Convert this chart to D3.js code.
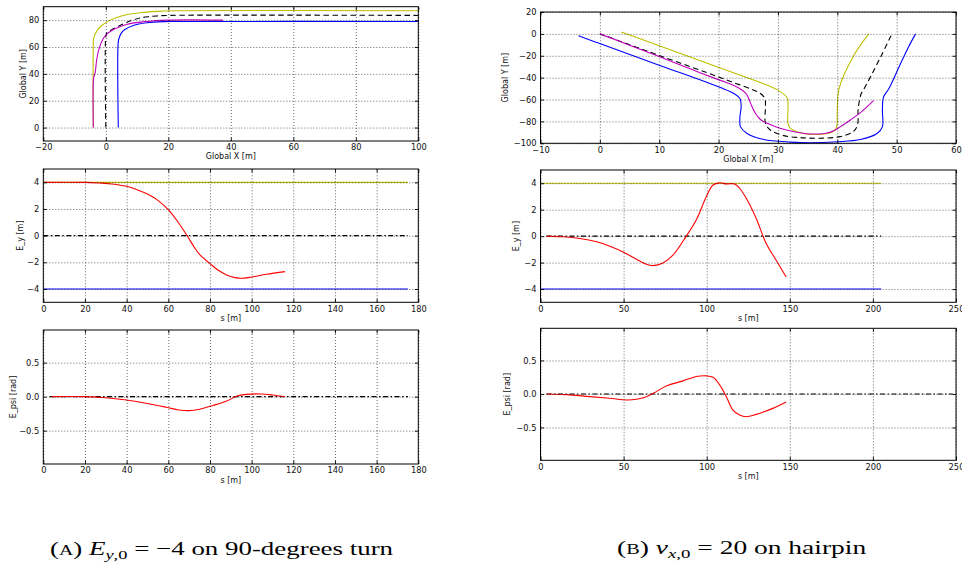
<!DOCTYPE html>
<html>
<head>
<meta charset="utf-8">
<script src="https://cdn.jsdelivr.net/npm/d3@7"></script>
<style>
  body { margin: 0; background: #fff; }
  svg { display: block; }
</style>
</head>
<body>
<div id="chart"></div>
<script>
// ---------- values ----------

// (A) 90-degree turn, global route [x, y] in m
const turnLeftEdge = [[-4, 0], [-4, 63], [-3.9, 66.5], [-2.9, 71.8], [-1.3, 76], [1.3, 80], [5.6, 83.5],
    [10.9, 85.5], [16.3, 86.5], [22, 87], [100, 87]];
const turnCenter = [[0, 0], [0, 68], [0.3, 70.5], [1.2, 72], [2.4, 73.5], [4.5, 76], [6.7, 78.3], [9, 80.3],
    [11, 81.6], [13.5, 82.5], [16.3, 83.1], [19.5, 83.5], [100, 83.5]];
const turnRightEdge = [[4, 0], [4, 64], [4.3, 67], [5, 70.5], [6.1, 73], [8.8, 76], [13.1, 78], [18.5, 78.9],
    [22, 79], [100, 79]];
const turnPath = [[-4, 0], [-4, 34], [-3.8, 38], [-3.4, 41], [-2.9, 50.7], [-1.9, 60.6], [-0.3, 68], [2.4, 73],
    [6.7, 76.8], [13.1, 79], [19.5, 80], [37.5, 80]];

// (A) lateral error E_y [m] and heading error E_psi [rad] along s [m]
const turnEyUpper = [[0, 4], [175, 4]];
const turnEyLower = [[0, -4], [175, -4]];
const turnEyRef = [[0, 0], [175, 0]];
const turnEy = [[0, 4], [20, 4], [27, 3.95], [33, 3.88], [40, 3.7], [45, 3.45], [50, 3.12], [55, 2.65], [60, 1.95],
    [65, 0.95], [69, 0], [72, -0.75], [75.2, -1.45], [80, -2.1], [84, -2.6], [88, -2.95], [92, -3.15], [95, -3.2],
    [100, -3.1], [107, -2.9], [116, -2.7]];
const turnEpsiRef = [[3, 0], [175, 0]];
const turnEpsi = [[4, 0], [20, 0], [30, -0.015], [40, -0.05], [50, -0.1], [59, -0.155], [65, -0.195], [70, -0.205],
    [75, -0.185], [81.5, -0.13], [88, -0.065], [93, 0.01], [97.5, 0.034], [104, 0.04], [110, 0.025], [116, 0]];

// (B) hairpin, global route [x, y] in m
const pinLeftEdge = [[3.6, 1.8], [10.1, -11], [20.3, -31.1], [24.5, -39.5], [27.6, -45.6], [30.4, -52.8], [31.6, -58.9],
    [31.7, -66.6], [31.7, -81.8], [32.1, -86.4], [33.8, -90.4], [35.5, -91.8], [37.7, -91.5], [39.4, -89],
    [39.9, -84.8], [40, -69.8], [40.3, -50], [42.8, -19.6], [45.3, 0]];
const pinCenter = [[0, 0], [10, -19.7], [20, -39.4], [23, -45.5], [25.5, -50.5], [27, -54.3], [27.8, -59], [27.9, -66],
    [27.9, -81.7], [28.7, -87.8], [31, -93], [33.8, -94.8], [36.6, -95.4], [40.5, -93.9], [42.5, -90], [43.2, -86],
    [43.5, -80], [43.5, -69.6], [44, -55], [44.4, -51.3], [45.9, -36], [47.5, -19], [49.2, 0]];
const pinRightEdge = [[-3.6, -1.8], [0.1, -9.1], [10.1, -28.8], [20.3, -49], [22.6, -54.5], [23.6, -59], [23.8, -66.6],
    [23.6, -75.8], [23.7, -85], [24.8, -91], [27.6, -96.5], [32.1, -98.9], [35.5, -99.5], [40, -98.6], [43.9, -96.5],
    [46.7, -91], [47.6, -85], [47.6, -69.8], [47.8, -57.6], [48.7, -50], [50.4, -30.2], [52, -11.9], [53.2, 0]];
const pinPath = [[0, 0], [5, -10.3], [10.1, -21], [15, -31.5], [20.3, -42.5], [22.5, -47], [24, -51.5], [24.8, -55.8],
    [25.4, -63.5], [26.2, -72.6], [27, -78], [28.2, -81.7], [30.5, -86.5], [32.7, -89.4], [34.5, -91], [36.6, -91.5],
    [38.3, -90.6], [39.4, -88.5], [40.5, -85], [42.2, -78.7], [44, -71.5], [46.1, -61]];

// (B) errors along s [m]
const pinEyUpper = [[0, 4], [205, 4]];
const pinEyLower = [[0, -4], [205, -4]];
const pinEyRef = [[3.6, 0], [205, 0]];
const pinEy = [[3.6, 0], [13.6, -0.05], [23.6, -0.18], [33.7, -0.43], [41.7, -0.76], [49.7, -1.19], [57.7, -1.75],
    [63.7, -2.13], [67.7, -2.23], [73.7, -2.03], [79.7, -1.44], [87.7, 0], [93.7, 1.22], [99.8, 2.99], [103.8, 3.87],
    [107.8, 4.03], [111.8, 3.95], [116.8, 3.95], [119.8, 3.62], [123.8, 2.86], [129.8, 1.34], [135.8, -0.56],
    [141.8, -1.82], [147.8, -3.09]];
const pinEpsiRef = [[3.6, 0], [248, 0]];
const pinEpsi = [[3.6, 0], [15.6, -0.01], [29.6, -0.04], [41.7, -0.065], [51.7, -0.09], [57.7, -0.08], [63.7, -0.04],
    [69.7, 0.035], [75.7, 0.12], [85.7, 0.195], [93.7, 0.26], [99.8, 0.27], [103.8, 0.25], [107.8, 0.135],
    [111.8, -0.04], [115.8, -0.24], [119.8, -0.315], [123.8, -0.34], [129.8, -0.305], [139.8, -0.215], [147.8, -0.12]];

// tick values
const turnXTicks = [-20, 0, 20, 40, 60, 80, 100];
const turnYTicks = [0, 20, 40, 60, 80];
const turnSTicks = [0, 20, 40, 60, 80, 100, 120, 140, 160, 180];
const pinXTicks = [-10, 0, 10, 20, 30, 40, 50, 60];
const pinYTicks = [20, 0, -20, -40, -60, -80, -100];
const pinSTicks = [0, 50, 100, 150, 200, 250];
const eyTicks = [-4, -2, 0, 2, 4];
const epsiTicks = [-0.5, 0, 0.5];

// ---------- drawing ----------
const W = 962, H = 568;
const colors = { y: "#bfbf00", m: "#bf00bf", b: "#0000ff", r: "#ff0000", k: "#000" };
const DASHED = "5.5,3.5", DASHDOT = "5,2.5,1.5,2.5";
const intFmt = d3.format("d"), decFmt = d3.format(".1f");

const svg = d3.select("#chart").append("svg")
    .attr("width", W)
    .attr("height", H)
    .style("font-family", "'DejaVu Sans', sans-serif");

const colA = { left: 43.3, right: 418.3 };
const colB = { left: 540.5, right: 956 };

const panels = [
    { ...colA, top: 6.7, bottom: 141, xDomain: [-20, 100], yDomain: [-10, 90], xTicks: turnXTicks, yTicks: turnYTicks,
      xFmt: intFmt, yFmt: intFmt, xLabel: "Global X [m]", yLabel: "Global Y [m]", yLabelX: 22.7,
      series: [
          { data: turnLeftEdge, color: colors.y },
          { data: turnRightEdge, color: colors.b },
          { data: turnCenter, color: colors.k, dash: DASHED },
          { data: turnPath, color: colors.m }
      ] },
    { ...colA, top: 169, bottom: 302.3, xDomain: [0, 180], yDomain: [-5, 5], xTicks: turnSTicks, yTicks: eyTicks,
      xFmt: intFmt, yFmt: intFmt, xLabel: "s [m]", yLabel: "E_y [m]", yLabelX: 20,
      series: [
          { data: turnEyUpper, color: colors.y },
          { data: turnEyLower, color: colors.b },
          { data: turnEyRef, color: colors.k, dash: DASHDOT },
          { data: turnEy, color: colors.r }
      ] },
    { ...colA, top: 330, bottom: 464, xDomain: [0, 180], yDomain: [-0.99, 0.98], xTicks: turnSTicks, yTicks: epsiTicks,
      xFmt: intFmt, yFmt: decFmt, xLabel: "s [m]", yLabel: "E_psi [rad]", yLabelX: 12.7,
      series: [
          { data: turnEpsiRef, color: colors.k, dash: DASHDOT },
          { data: turnEpsi, color: colors.r }
      ] },
    { ...colB, top: 12, bottom: 143.3, xDomain: [-10, 60], yDomain: [-100, 20], xTicks: pinXTicks, yTicks: pinYTicks,
      xFmt: intFmt, yFmt: intFmt, xLabel: "Global X [m]", yLabel: "Global Y [m]", yLabelX: 505,
      series: [
          { data: pinLeftEdge, color: colors.y },
          { data: pinRightEdge, color: colors.b },
          { data: pinCenter, color: colors.k, dash: DASHED },
          { data: pinPath, color: colors.m }
      ] },
    { ...colB, top: 170, bottom: 302.3, xDomain: [0, 250], yDomain: [-5, 5], xTicks: pinSTicks, yTicks: eyTicks,
      xFmt: intFmt, yFmt: intFmt, xLabel: "s [m]", yLabel: "E_y [m]", yLabelX: 516,
      series: [
          { data: pinEyUpper, color: colors.y },
          { data: pinEyLower, color: colors.b },
          { data: pinEyRef, color: colors.k, dash: DASHDOT },
          { data: pinEy, color: colors.r }
      ] },
    { ...colB, top: 328.3, bottom: 460.3, xDomain: [0, 250], yDomain: [-0.99, 0.98], xTicks: pinSTicks, yTicks: epsiTicks,
      xFmt: intFmt, yFmt: decFmt, xLabel: "s [m]", yLabel: "E_psi [rad]", yLabelX: 507,
      series: [
          { data: pinEpsiRef, color: colors.k, dash: DASHDOT },
          { data: pinEpsi, color: colors.r }
      ] }
];

function gridStyle(sel) {
    sel.select(".domain").remove();
    sel.selectAll("line")
        .attr("stroke", "#000")
        .attr("stroke-width", 0.6)
        .attr("stroke-dasharray", "1,2");
}

function tickStyle(sel) {
    sel.select(".domain").remove();
    sel.selectAll("line").attr("stroke", "#000").attr("stroke-width", 0.9);
    sel.selectAll("text")
        .attr("fill", "#111")
        .attr("font-size", "8.3px")
        .attr("font-family", "'DejaVu Sans', sans-serif");
}

panels.forEach(p => {
    const w = p.right - p.left;
    const h = p.bottom - p.top;
    const x = d3.scaleLinear().domain(p.xDomain).range([0, w]);
    const y = d3.scaleLinear().domain(p.yDomain).range([h, 0]);

    const g = svg.append("g").attr("transform", `translate(${p.left},${p.top})`);

    const line = d3.line()
        .x(d => x(d[0]))
        .y(d => y(d[1]))
        .curve(d3.curveCatmullRom.alpha(0.5));

    p.series.forEach(s => {
        g.append("path")
            .attr("d", line(s.data))
            .attr("fill", "none")
            .attr("stroke", s.color)
            .attr("stroke-width", 1.1)
            .attr("stroke-dasharray", s.dash || null);
    });

    // classic matplotlib: grid is drawn over the lines
    g.append("g")
        .attr("transform", `translate(0,${h})`)
        .call(d3.axisBottom(x).tickValues(p.xTicks).tickSize(-h).tickFormat(""))
        .call(gridStyle);
    g.append("g")
        .call(d3.axisLeft(y).tickValues(p.yTicks).tickSize(-w).tickFormat(""))
        .call(gridStyle);

    g.append("rect")
        .attr("width", w)
        .attr("height", h)
        .attr("fill", "none")
        .attr("stroke", "#000")
        .attr("stroke-width", 1);

    // inward ticks on all four sides
    g.append("g")
        .attr("transform", `translate(0,${h})`)
        .call(d3.axisBottom(x).tickValues(p.xTicks).tickSize(-3.5).tickPadding(3.5).tickFormat(p.xFmt))
        .call(tickStyle);
    g.append("g")
        .call(d3.axisTop(x).tickValues(p.xTicks).tickSize(-3.5).tickFormat(""))
        .call(tickStyle);
    g.append("g")
        .call(d3.axisLeft(y).tickValues(p.yTicks).tickSize(-3.5).tickPadding(4).tickFormat(p.yFmt))
        .call(tickStyle);
    g.append("g")
        .attr("transform", `translate(${w},0)`)
        .call(d3.axisRight(y).tickValues(p.yTicks).tickSize(-3.5).tickFormat(""))
        .call(tickStyle);

    g.append("text")
        .attr("x", w / 2)
        .attr("y", h + 18.5)
        .attr("text-anchor", "middle")
        .attr("font-size", "8px")
        .attr("fill", "#111")
        .text(p.xLabel);

    svg.append("text")
        .attr("transform", `translate(${p.yLabelX},${p.top + h / 2}) rotate(-90)`)
        .attr("dy", "0.35em")
        .attr("text-anchor", "middle")
        .attr("font-size", "8px")
        .attr("fill", "#111")
        .text(p.yLabel);
});

// ---------- sub-captions ----------
function caption(x0, baseline, targetWidth, parts) {
    const t = svg.append("text")
        .attr("font-family", "'Liberation Serif', serif")
        .attr("font-size", "19px")
        .attr("fill", "#000");
    parts.forEach(pt => {
        t.append("tspan")
            .attr("font-size", pt.size || null)
            .attr("font-style", pt.italic ? "italic" : null)
            .attr("dy", pt.dy || null)
            .text(pt.text);
    });
    const natural = t.node().getBBox().width;
    t.attr("transform", `translate(${x0},${baseline}) scale(${targetWidth / natural},1)`);
}

caption(50, 555, 344, [
    { text: "(" },
    { text: "A", size: "14px" },
    { text: ") " },
    { text: "E", italic: true },
    { text: "y", italic: true, size: "13px", dy: 4 },
    { text: ",0", size: "13px" },
    { text: " = \u22124 on 90-degrees turn", dy: -4 }
]);

caption(617, 554, 250, [
    { text: "(" },
    { text: "B", size: "14px" },
    { text: ") " },
    { text: "v", italic: true },
    { text: "x", italic: true, size: "13px", dy: 4 },
    { text: ",0", size: "13px" },
    { text: " = 20 on hairpin", dy: -4 }
]);
</script>
</body>
</html>
